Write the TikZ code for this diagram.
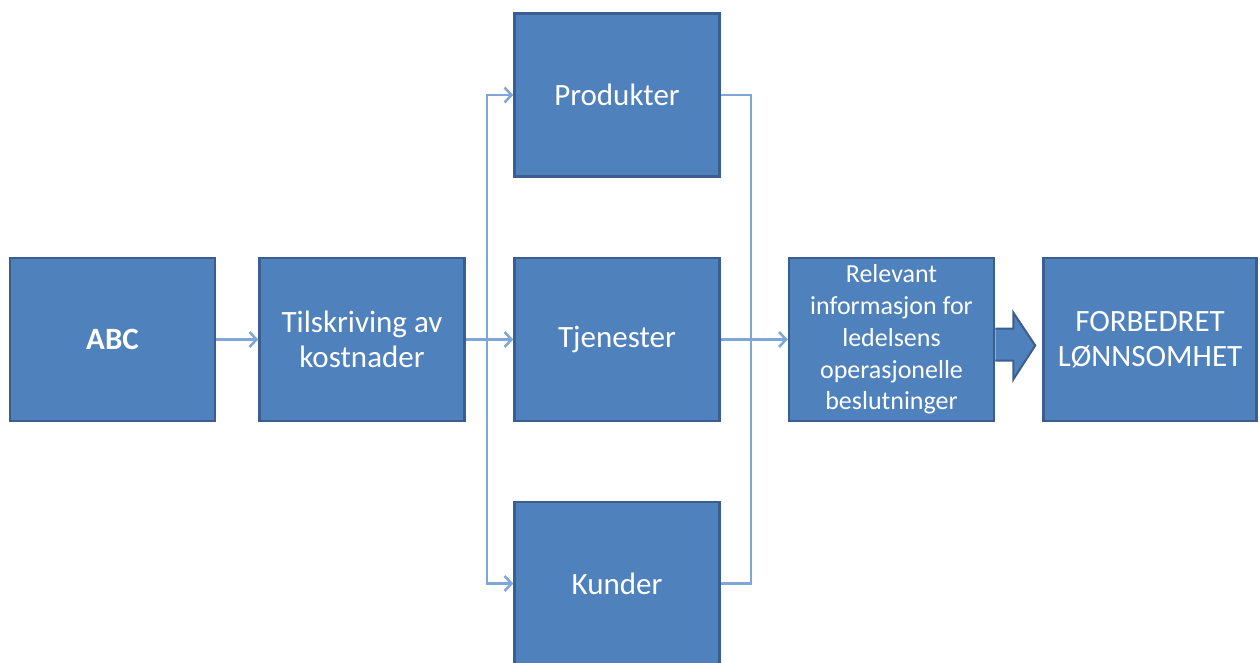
\documentclass[tikz,border=0pt]{standalone}
\usepackage{fontspec}
\setmainfont{Carlito}
\usetikzlibrary{arrows.meta,calc}
\definecolor{boxfill}{HTML}{4F81BD}
\definecolor{boxline}{HTML}{3A5F8F}
\definecolor{connc}{HTML}{7EA6D8}
\tikzset{
  box/.style={draw=boxline, fill=boxfill, line width=2.5pt, text=white,
    minimum width=205pt, minimum height=163pt, inner sep=0pt, align=center,
    font=\fontsize{31}{35}\selectfont},
  smallbox/.style={box, font=\fontsize{26}{31.7}\selectfont},
  conn/.style={draw=connc, line width=2.5pt, -{Straight Barb[length=7pt,width=15pt,line width=2.5pt]}},
  plainconn/.style={draw=connc, line width=2.5pt},
}
\begin{document}
\begin{tikzpicture}[x=1pt,y=-1pt]
\useasboundingbox (0,0) rectangle (1260,662);
\clip (0,0) rectangle (1260,662);
\node[box, font=\bfseries\fontsize{31}{35}\selectfont] (abc) at (112.5,339.5) {ABC};
\node[box] (til) at (362,339.5) {Tilskriving av\\kostnader};
\node[box] (pro) at (617,95) {Produkter};
\node[box] (tje) at (617,339.5) {Tjenester};
\node[box] (kun) at (617,583.5) {Kunder};
\node[smallbox] (rel) at (891.5,339.5) {Relevant\\informasjon for\\ledelsens\\operasjonelle\\beslutninger};
\node[box, minimum width=213pt] (for) at (1150,339.5) {FORBEDRET\\LØNNSOMHET};
\coordinate (busL) at (487,339.5);
\coordinate (busR) at (751,339.5);
\draw[conn] (abc.east) -- (til.west);
\draw[conn] (til.east) -- (tje.west);
\draw[conn] (busL) |- (pro.west);
\draw[conn] (busL) |- (kun.west);
\draw[plainconn] (pro.east) -| (busR);
\draw[plainconn] (kun.east) -| (busR);
\draw[conn] (tje.east) -- (rel.west);
\draw[draw=boxline, fill=boxfill, line width=2pt, line join=miter]
  ($(rel.east)+(0,-11)$) -- ++(18,0) -- ++(0,-16) -- ($(for.west)+(-7,6)$)
  -- ($(rel.east)+(18,40)$) -- ++(0,-19) -- ($(rel.east)+(0,21)$);
\end{tikzpicture}
\end{document}
